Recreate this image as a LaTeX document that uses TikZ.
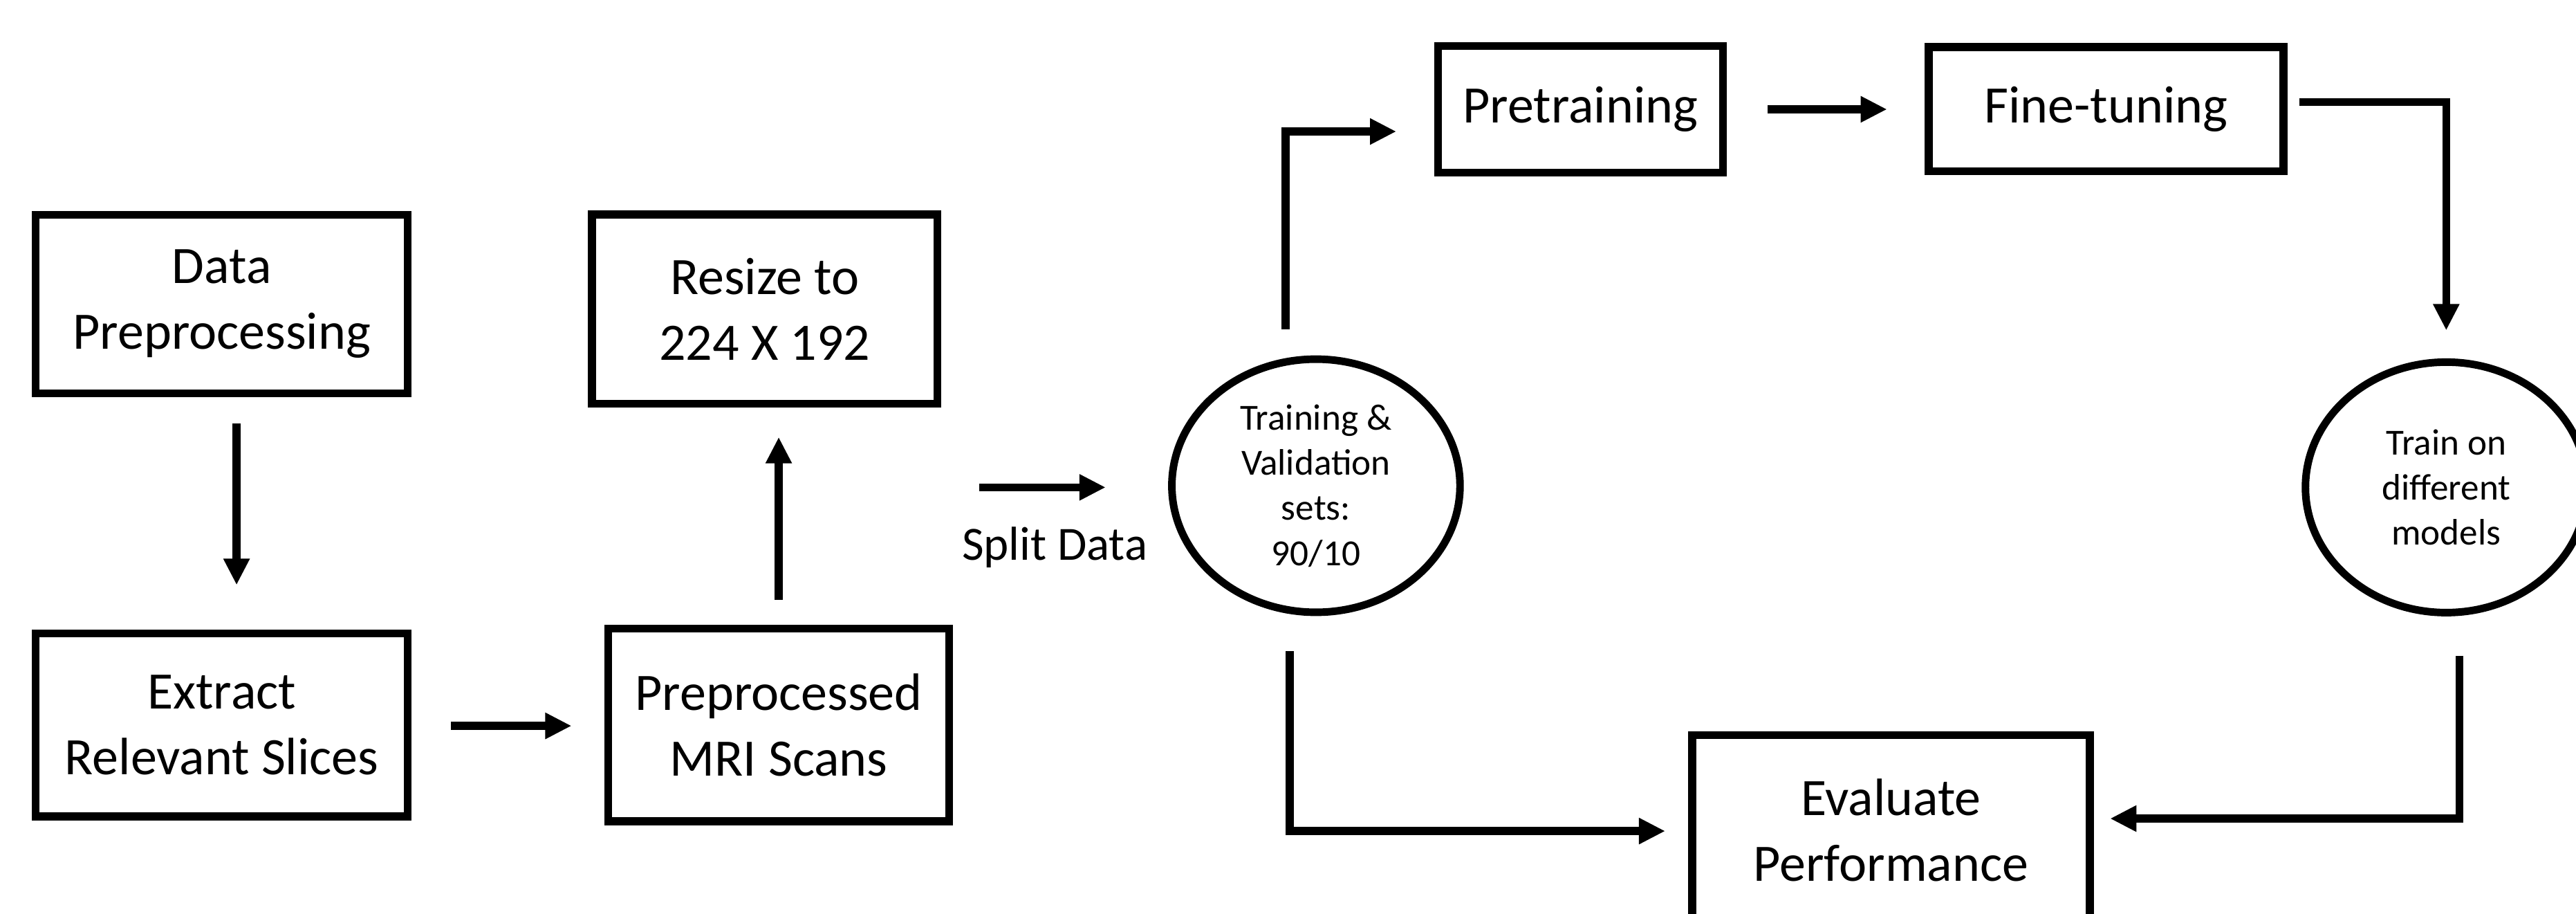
\documentclass[tikz,border=0pt]{standalone}
\usepackage{fontspec}
\setmainfont{Carlito}
\usetikzlibrary{arrows.meta,shapes.geometric,calc}
\begin{document}
\begin{tikzpicture}[x=0.5pt,y=-0.5pt,
  box/.style={draw,line width=2.4pt,rectangle,inner sep=0pt,align=center,font=\fontsize{16pt}{20pt}\selectfont},
  oval/.style={draw,line width=2.3pt,ellipse,inner sep=0pt,align=center,font=\fontsize{11.2pt}{13.75pt}\selectfont},
  arr/.style={line width=2.4pt,-{Triangle[length=8pt,width=7.5pt]}},
  lbl/.style={font=\fontsize{14.5pt}{18pt}\selectfont}]
\path[use as bounding box, clip] (0,0) rectangle (1568,556);
\fill[white] (0,0) rectangle (1568,556);

\node[box,minimum width=113.2pt,minimum height=54.2pt] (dp) at (135,185) {Data\\Preprocessing};
\node[box,minimum width=113.2pt,minimum height=55.7pt] (ex) at (135,441) {Extract\\Relevant Slices};
\node[box,minimum width=105.2pt,minimum height=57.5pt] (rs) at (465.5,188) {Resize to\\224 X 192};
\node[box,minimum width=103.7pt,minimum height=58.7pt] (pp) at (474,441) {Preprocessed\\MRI Scans};
\node[box,minimum width=86.7pt,minimum height=38.5pt] (pt) at (962,66.5) {Pretraining};
\node[box,minimum width=108pt,minimum height=37.8pt] (ft) at (1282,66.5) {Fine-tuning};
\node[box,minimum width=121pt,minimum height=57.7pt] (ev) at (1151,505) {Evaluate\\Performance};
\node[oval,minimum width=87.7pt,minimum height=77pt] (tv) at (801,295.5) {Training \&\\Validation\\sets:\\90/10};
\node[oval,minimum width=85.7pt,minimum height=76.2pt] (tm) at (1489,296.5) {Train on\\different\\models};

\node[lbl] (sd) at (642,333) {Split Data};
\coordinate (sp) at ([shift={(-115,1)}]tv.west);

\draw[arr] ([shift={(9,16)}]dp.south) -- ([shift={(9,-27)}]ex.north);
\draw[arr] ([shift={(24,0.6)}]ex.east) -- ([shift={(-20,0.6)}]pp.west);
\draw[arr] ([shift={(0,-15)}]pp.north) -- ([shift={(8.5,18)}]rs.south);
\draw[arr] (sp) -- ([shift={(-38,1)}]tv.west);
\draw[arr] ([shift={(-18.5,-16)}]tv.north) |- ([shift={(-23,13.5)}]pt.west);
\draw[arr] ([shift={(25,0)}]pt.east) -- ([shift={(-23,0)}]ft.west);
\draw[arr] ([shift={(7,-4.5)}]ft.east) -| ([shift={(0,-17)}]tm.north);
\draw[arr] ([shift={(8,24)}]tm.south) |- ([shift={(10,-7)}]ev.east);
\draw[arr] ([shift={(-16,21.5)}]tv.south) |- ([shift={(-14,0.6)}]ev.west);
\end{tikzpicture}
\end{document}
